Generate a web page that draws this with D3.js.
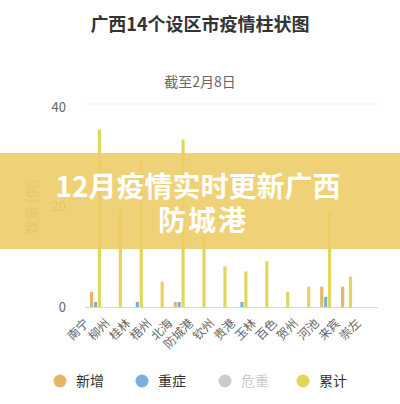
<!DOCTYPE html>
<html>
<head>
<meta charset="utf-8">
<script src="https://cdn.jsdelivr.net/npm/d3@7"></script>
<style>
  html, body { margin: 0; padding: 0; background: #fff; }
  svg { display: block; font-family: "Noto Sans CJK SC", "Noto Sans", sans-serif; }
</style>
</head>
<body>
<svg id="chart" width="400" height="404"></svg>
<script>
var cities = ["南宁", "柳州", "桂林", "梧州", "北海", "防城港", "钦州", "贵港", "玉林", "百色", "贺州", "河池", "来宾", "崇左"];
var newCases = [3, 0, 0, 0, 1, 0, 0, 0, 0, 0, 0, 4, 4, 0];
var severe = [1, 0, 1, 0, 1, 0, 0, 1, 0, 0, 0, 2, 0, 0];
var critical = [0, 0, 0, 0, 0, 0, 0, 0, 0, 0, 0, 0, 0, 0];
var total = [35, 19, 29, 5, 33, 14, 8, 7, 9, 3, 4, 19, 6, 0];
var yTicks = [0, 20, 40];
var legendNames = ["新增", "重症", "危重", "累计"];

var svg = d3.select("#chart"),
    margin = {top: 104, right: 22, bottom: 97, left: 85},
    width = +svg.attr("width") - margin.left - margin.right,
    height = +svg.attr("height") - margin.top - margin.bottom,
    g = svg.append("g").attr("transform", "translate(" + margin.left + "," + margin.top + ")");

var colors = {"新增": "#e6b566", "重症": "#7aaedc", "危重": "#cccccc", "累计": "#e2d65a"};

// hidden series (危重 is switched off in the legend)
var shown = ["新增", "重症", "累计"];
var series = {"新增": newCases, "重症": severe, "危重": critical, "累计": total};

var x = d3.scaleBand()
    .domain(cities)
    .range([0, width]);

var x1 = d3.scaleBand()
    .domain(shown)
    .range([-5.5, 5.5])
    .paddingInner(0.2);

var y = d3.scaleLinear()
    .domain([0, 40])
    .range([height, 0]);

// title
svg.append("text")
    .attr("x", 200).attr("y", 31)
    .attr("text-anchor", "middle")
    .attr("font-size", 18).attr("font-weight", "bold")
    .attr("fill", "#333")
    .text("广西14个设区市疫情柱状图");

svg.append("text")
    .attr("x", 200).attr("y", 87)
    .attr("text-anchor", "middle")
    .attr("font-size", 14)
    .attr("fill", "#666")
    .text("截至2月8日");

// grid lines
g.append("g")
  .selectAll("line")
  .data(yTicks.filter(function(d) { return d > 0; }))
  .enter().append("line")
    .attr("x1", 0).attr("x2", width)
    .attr("y1", function(d) { return y(d); })
    .attr("y2", function(d) { return y(d); })
    .attr("stroke", "#ebebeb");

g.append("g")
  .selectAll("text")
  .data(yTicks)
  .enter().append("text")
    .attr("x", -19)
    .attr("y", function(d) { return y(d) + (d == 40 ? 8 : 5); })
    .attr("text-anchor", "end")
    .attr("font-size", 13)
    .attr("fill", "#666")
    .text(function(d) { return d; });

svg.append("text")
    .attr("transform", "translate(37,207) rotate(-90)")
    .attr("text-anchor", "middle")
    .attr("font-size", 14)
    .attr("fill", "#888")
    .text("数量 (例)");

// bars
shown.forEach(function(s) {
  g.append("g")
    .selectAll("rect")
    .data(series[s])
    .enter().append("rect")
      .attr("x", function(d, i) { return x(cities[i]) + x.bandwidth() / 2 + x1(s); })
      .attr("y", function(d) { return y(d); })
      .attr("width", x1.bandwidth())
      .attr("height", function(d) { return height - y(d); })
      .attr("fill", colors[s]);
});

// x axis line
g.append("line")
    .attr("x1", 0).attr("x2", width)
    .attr("y1", height + 0.5).attr("y2", height + 0.5)
    .attr("stroke", "#cfd8e6");

g.append("g")
  .selectAll("text")
  .data(cities)
  .enter().append("text")
    .attr("transform", function(d) {
      return "translate(" + (x(d) + x.bandwidth() / 2 - 6) + "," + (height + 17) + ") rotate(-45)";
    })
    .attr("text-anchor", "end")
    .attr("font-size", 12)
    .attr("fill", "#666")
    .text(function(d) { return d; });

// legend
var legendX = [60, 142, 225, 303];
var legend = svg.append("g")
  .selectAll("g")
  .data(legendNames)
  .enter().append("g")
    .attr("transform", function(d, i) { return "translate(" + legendX[i] + ",381)"; });

legend.append("circle")
    .attr("r", 6.5)
    .attr("fill", function(d) { return colors[d]; });

legend.append("text")
    .attr("x", 16).attr("y", 5)
    .attr("font-size", 14)
    .attr("fill", function(d) { return d == "危重" ? "#ccc" : "#333"; })
    .text(function(d) { return d; });

// overlay banner
svg.append("rect")
    .attr("x", 0).attr("y", 153)
    .attr("width", 400).attr("height", 96)
    .attr("fill", "rgb(237,205,104)")
    .attr("fill-opacity", 0.9);

svg.append("text")
    .attr("x", 198).attr("y", 197)
    .attr("text-anchor", "middle")
    .attr("font-size", 28).attr("font-weight", "bold")
    .attr("fill", "#fff")
    .text("12月疫情实时更新广西");

svg.append("text")
    .attr("x", 203).attr("y", 231)
    .attr("text-anchor", "middle")
    .attr("font-size", 28).attr("font-weight", "bold")
    .attr("letter-spacing", 2)
    .attr("fill", "#fff")
    .text("防城港");
</script>
</body>
</html>
